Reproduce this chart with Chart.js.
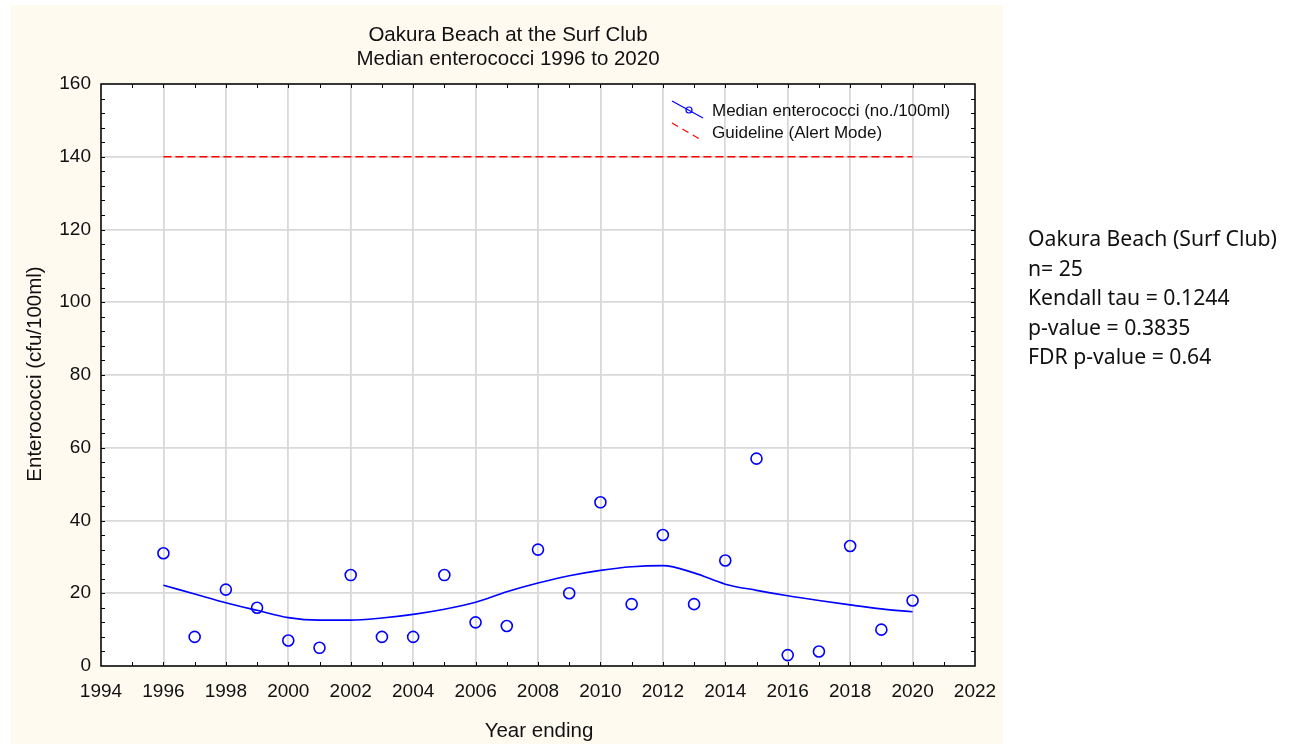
<!DOCTYPE html>
<html>
<head>
<meta charset="utf-8">
<title>Oakura Beach at the Surf Club</title>
<script src="https://cdn.jsdelivr.net/npm/chart.js@4.4.0/dist/chart.umd.min.js"></script>
<style>
  html, body { margin: 0; padding: 0; background: #fff; }
  #wrap { position: relative; width: 1293px; height: 744px; overflow: hidden; }
  #panel { position: absolute; left: 11px; top: 5px; width: 992px; height: 739px; background: #fefaf0; }
  #chart { position: absolute; left: 0; top: 0; }
  #stats { position: absolute; left: 1028px; top: 223px; font-family: "Noto Sans", sans-serif; font-size: 21.2px; line-height: 29.5px; color: #111; white-space: nowrap; }
</style>
</head>
<body>
<div id="wrap">
  <div id="panel"></div>
  <canvas id="chart" width="1293" height="744"></canvas>
  <div id="stats">
    <div>Oakura Beach (Surf Club)</div>
    <div>n= 25</div>
    <div>Kendall tau = 0.1244</div>
    <div>p-value = 0.3835</div>
    <div>FDR p-value = 0.64</div>
  </div>
</div>
<script>
// data
const years = [1996, 1997, 1998, 1999, 2000, 2001, 2002, 2003, 2004, 2005, 2006, 2007, 2008,
               2009, 2010, 2011, 2012, 2013, 2014, 2015, 2016, 2017, 2018, 2019, 2020];
const medians = [31, 8, 21, 16, 7, 5, 25, 8, 8, 25, 12, 11, 32,
                 20, 45, 17, 36, 17, 29, 57, 3, 4, 33, 10, 18];
// smoothed trend line
const trend = [22.2, 19.8, 17.4, 15.3, 13.3, 12.6, 12.6, 13.2, 14.2, 15.6, 17.5, 20.4, 22.8,
               24.8, 26.3, 27.3, 27.6, 25.6, 22.5, 20.8, 19.3, 18.0, 16.8, 15.7, 14.9];
const guideYears = [1996, 2020];
const guideline = 140;
const xTicks = { min: 1994, max: 2022, step: 2 };
const yTicks = { min: 0, max: 160, step: 20 };

const BLUE = '#0000ff';
const RED = '#ff0000';
const FONT = '"Liberation Sans", Arial, sans-serif';

Chart.defaults.font.family = FONT;
Chart.defaults.font.size = 19;
Chart.defaults.color = '#111';

// white plot area, frame, inward ticks, titles and legend
const decor = {
  id: 'decor',
  beforeDraw(chart) {
    const { ctx, chartArea: a } = chart;
    ctx.save();
    ctx.fillStyle = '#fff';
    ctx.fillRect(a.left, a.top, a.right - a.left, a.bottom - a.top);
    ctx.restore();
  },
  afterDraw(chart) {
    const { ctx, chartArea: a, scales } = chart;
    ctx.save();
    ctx.strokeStyle = '#000';
    ctx.lineWidth = 1.5;
    ctx.strokeRect(a.left, a.top, a.right - a.left, a.bottom - a.top);

    // inward ticks
    ctx.lineWidth = 1;
    ctx.beginPath();
    for (let v = xTicks.min + 1; v < xTicks.max; v++) {
      const px = Math.round(scales.x.getPixelForValue(v)) + 0.5;
      ctx.moveTo(px, a.bottom); ctx.lineTo(px, a.bottom - 4);
      ctx.moveTo(px, a.top); ctx.lineTo(px, a.top + 4);
    }
    for (let v = yTicks.min + 4; v < yTicks.max; v += 4) {
      const py = Math.round(scales.y.getPixelForValue(v)) + 0.5;
      ctx.moveTo(a.left, py); ctx.lineTo(a.left + 4, py);
      ctx.moveTo(a.right, py); ctx.lineTo(a.right - 4, py);
    }
    ctx.stroke();

    // titles
    ctx.fillStyle = '#111';
    ctx.font = '20.5px ' + FONT;
    ctx.textAlign = 'center';
    ctx.textBaseline = 'middle';
    ctx.fillText('Oakura Beach at the Surf Club', 508, 35);
    ctx.fillText('Median enterococci 1996 to 2020', 508, 59);
    ctx.fillText('Year ending', (a.left + a.right) / 2 + 1, 731);
    ctx.save();
    ctx.translate(35, 374);
    ctx.rotate(-Math.PI / 2);
    ctx.fillText('Enterococci (cfu/100ml)', 0, 0);
    ctx.restore();

    // legend
    const lx = a.right - 303, ly = a.top + 17;
    ctx.strokeStyle = BLUE;
    ctx.lineWidth = 1.2;
    ctx.beginPath();
    ctx.moveTo(lx, ly); ctx.lineTo(lx + 31, ly + 17);
    ctx.stroke();
    ctx.beginPath();
    ctx.arc(lx + 17, ly + 9, 3, 0, Math.PI * 2);
    ctx.stroke();
    ctx.strokeStyle = RED;
    ctx.setLineDash([7, 5]);
    ctx.beginPath();
    ctx.moveTo(lx, ly + 22); ctx.lineTo(lx + 31, ly + 40);
    ctx.stroke();
    ctx.setLineDash([]);
    ctx.font = '17px ' + FONT;
    ctx.textAlign = 'left';
    ctx.fillText('Median enterococci (no./100ml)', lx + 40, ly + 10);
    ctx.fillText('Guideline (Alert Mode)', lx + 40, ly + 32);
    ctx.restore();
  }
};

new Chart(document.getElementById('chart'), {
  type: 'scatter',
  data: {
    datasets: [
      {
        label: 'Median enterococci (no./100ml)',
        data: years.map((x, i) => ({ x, y: medians[i] })),
        showLine: false,
        pointRadius: 5.5,
        pointBorderWidth: 1.6,
        pointBorderColor: BLUE,
        pointBackgroundColor: 'rgba(0,0,0,0)'
      },
      {
        label: 'Trend',
        data: years.map((x, i) => ({ x, y: trend[i] })),
        showLine: true,
        borderColor: BLUE,
        borderWidth: 1.6,
        pointRadius: 0,
        cubicInterpolationMode: 'monotone'
      },
      {
        label: 'Guideline (Alert Mode)',
        data: guideYears.map(x => ({ x, y: guideline })),
        showLine: true,
        borderColor: RED,
        borderWidth: 1.6,
        borderDash: [8, 4],
        pointRadius: 0
      }
    ]
  },
  options: {
    responsive: false,
    animation: false,
    layout: { padding: { top: 84, right: 318, bottom: 0, left: 0 } },
    plugins: { legend: { display: false }, tooltip: { enabled: false } },
    scales: {
      x: {
        type: 'linear',
        min: xTicks.min,
        max: xTicks.max,
        ticks: { stepSize: xTicks.step, padding: 14, maxRotation: 0, callback: v => String(v) },
        grid: { color: '#d9d9d9', lineWidth: 1.8, drawTicks: false },
        border: { display: false },
        afterFit: s => { s.height = 78; }
      },
      y: {
        min: yTicks.min,
        max: yTicks.max,
        ticks: { stepSize: yTicks.step, padding: 10, callback: v => String(v) },
        grid: { color: '#d9d9d9', lineWidth: 1.8, drawTicks: false },
        border: { display: false },
        afterFit: s => { s.width = 101; }
      }
    }
  },
  plugins: [decor]
});
</script>
</body>
</html>
